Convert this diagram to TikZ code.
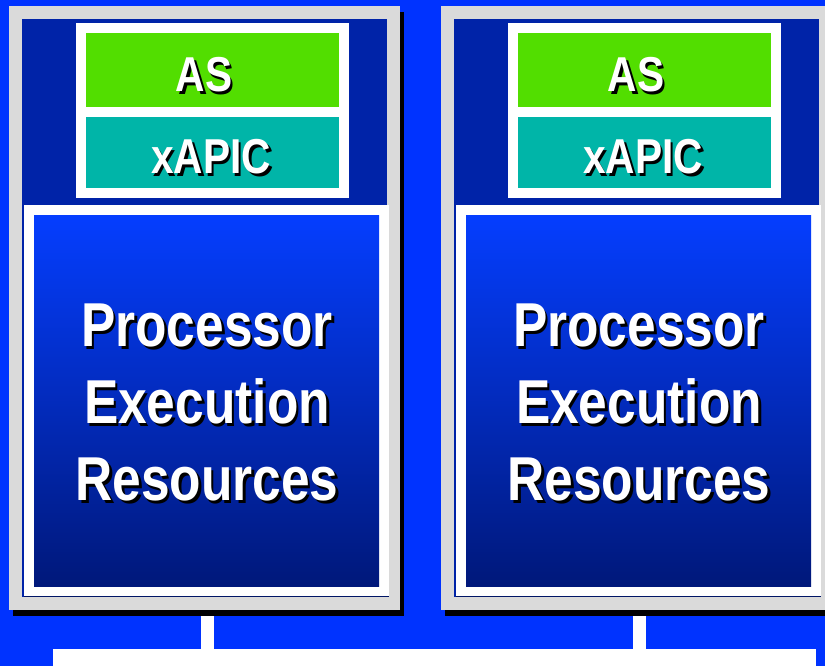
\documentclass[tikz,border=0pt]{standalone}
\usepackage{fontspec}
\setmainfont{Liberation Sans}[FakeStretch=0.83]
\usetikzlibrary{calc}
\definecolor{bg}{RGB}{0,51,255}
\definecolor{frame}{RGB}{218,218,218}
\definecolor{navy}{RGB}{0,35,168}
\definecolor{asgreen}{RGB}{82,222,0}
\definecolor{apicteal}{RGB}{0,181,168}
\definecolor{gradtop}{RGB}{5,62,255}
\definecolor{gradbot}{RGB}{0,24,122}
% white lettering with a black drop shadow set in the same box
\newcommand\shd[1]{\leavevmode\rlap{\kern2.6pt\raisebox{-2.6pt}{\color{black}#1}}#1}
\begin{document}
\begin{tikzpicture}[x=1pt,y=-1pt,
  panel/.style={fill=frame, minimum width=391pt, minimum height=604pt, inner sep=0pt},
  whitebox/.style={fill=white, inner sep=0pt},
  cell/.style={inner sep=0pt, minimum width=253pt},
  perbox/.style={top color=gradtop, bottom color=gradbot, minimum width=345pt, minimum height=371pt, inner sep=0pt},
  smalltxt/.style={inner sep=0pt, anchor=base, text=white, font=\bfseries\fontsize{49}{49}\selectfont},
  bigtxt/.style={inner sep=0pt, align=center, text=white, font=\bfseries\fontsize{62}{77}\selectfont},
  conn/.style={white, line width=13pt}]
\useasboundingbox (0,0) rectangle (825,666);
\clip (0,0) rectangle (825,666);
% backdrop
\fill[bg] (0,0) rectangle (825,666);

% taps where the connectors leave the two processor panels
\coordinate (tapL) at (207.5,612);
\coordinate (tapR) at (639.5,612);

% shared bus along the bottom
\node[fill=white, inner sep=0pt, minimum width=763pt, minimum height=30pt, anchor=north west] (bus) at (53,649) {};
\draw[conn] (tapL) -- (tapL |- bus.north);
\draw[conn] (tapR) -- (tapR |- bus.north);

% the two logical processors
\foreach \s/\dx in {L/0,R/432} {
  \begin{scope}[xshift=\dx pt]
    \fill[black] (12.5,12) rectangle (404,616);
    \node[panel] (panel\s) at (204.5,308) {};
    \fill[navy] (22,19) rectangle (387,597);
    % architecture state and local APIC
    \node[whitebox, minimum width=273pt, minimum height=175pt] (top\s) at (212.5,110.5) {};
    \node[cell, fill=asgreen, minimum height=74pt] (as\s) at (212.5,70) {};
    \node[cell, fill=apicteal, minimum height=71pt] (apic\s) at (212.5,152.5) {};
    \node[smalltxt] (asT\s) at (204,92) {\shd{AS}};
    \node[smalltxt] (apicT\s) at (211,174) {\shd{xAPIC}};
    % execution resources
    \node[whitebox, minimum width=365pt, minimum height=391pt] (low\s) at (206.5,400.5) {};
    \draw[navy!60!black, line width=0.8pt] (low\s.south west) -- (low\s.south east);
    \node[perbox] (per\s) at (206.5,400.5) {};
    \node[bigtxt] (perT\s) at (207,404) {\shd{Processor}\\\shd{Execution}\\\shd{Resources}};
  \end{scope}
}
\end{tikzpicture}
\end{document}
